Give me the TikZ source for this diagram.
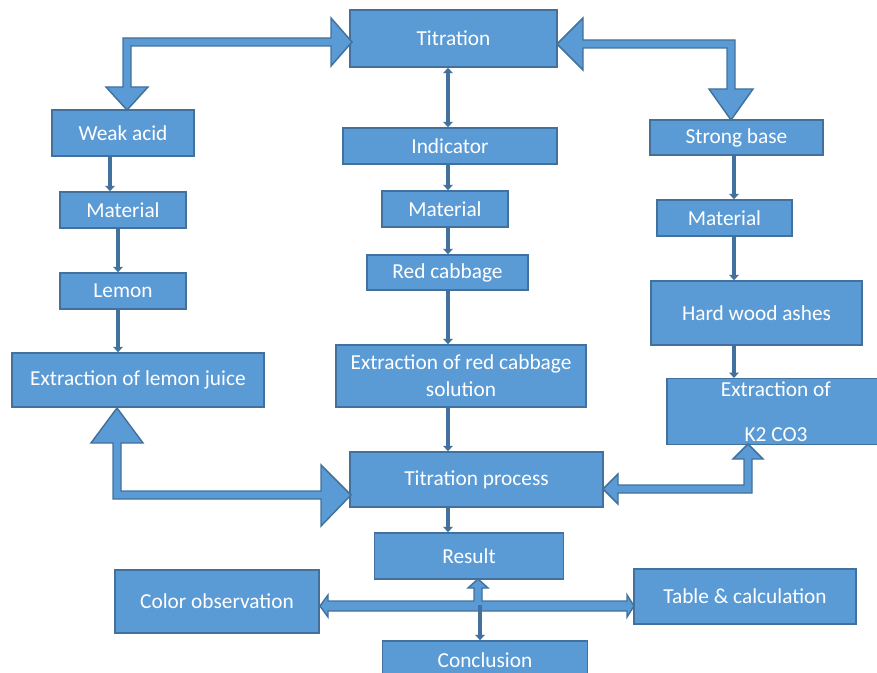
\documentclass[tikz,border=0pt]{standalone}
\usepackage{fontspec}
\setmainfont{Carlito}
\usetikzlibrary{arrows.meta}
\definecolor{boxblue}{HTML}{5B9BD5}
\definecolor{edgeblue}{HTML}{41719C}
\tikzset{
  box/.style={rectangle,draw=edgeblue,fill=boxblue,line width=1.1pt,text=white,
    inner sep=2pt,align=center,font=\fontsize{16}{20}\selectfont},
  sz/.style 2 args={minimum width=#1*0.75pt,minimum height=#2*0.75pt},
  link/.style={draw=edgeblue,line width=2.8pt,-{Triangle[width=7pt,length=4pt]}},
  blockarrow/.style={draw=edgeblue,fill=boxblue,line width=1.1pt,line join=miter}
}
\begin{document}
\begin{tikzpicture}[x=0.75pt,y=-0.75pt]
\clip (0,0) rectangle (877,673);
% boxes
\node[box,sz={207}{57}] (tit) at (453.5,38.5) {Titration};
\node[box,sz={142}{46}] (weak) at (123,133) {Weak acid};
\node[box,sz={214}{36}] (ind) at (450,146) {Indicator};
\node[box,sz={173}{35}] (strong) at (736.5,137.5) {Strong base};
\node[box,sz={126}{36}] (mat1) at (123,210) {Material};
\node[box,sz={126}{36}] (mat2) at (445,209) {Material};
\node[box,sz={135}{36}] (mat3) at (724.5,218) {Material};
\node[box,sz={126}{36}] (lemon) at (123,291) {Lemon};
\node[box,sz={161}{35}] (cab) at (447.5,272.5) {Red cabbage};
\node[box,sz={211}{64}] (ash) at (756.5,313) {Hard wood ashes};
\node[box,sz={252}{54}] (exl) at (138,380) {Extraction of lemon juice};
\node[box,sz={250}{62}] (exc) at (461,376) {Extraction of red cabbage\\solution};
\node[box,sz={218}{63}] (exk) at (776,411.5) {Extraction of\\[14pt]K2 CO3};
\node[box,sz={253}{55}] (proc) at (476.5,479.5) {Titration process};
\node[box,sz={189}{46}] (res) at (469,556) {Result};
\node[box,sz={204}{63}] (col) at (217,601.5) {Color observation};
\node[box,sz={222}{55}] (tab) at (745,596.5) {Table \& calculation};
\node[box,sz={205}{38}] (conc) at (485,660) {Conclusion};
% columns of the small arrows
\coordinate (cA) at (110,0);
\coordinate (cB) at (118,0);
\coordinate (cM) at (448,0);
\coordinate (cR) at (734,0);
\coordinate (bar) at (480,605);
% small arrows
\draw[link,{Triangle[width=7pt,length=4pt]}-{Triangle[width=7pt,length=4pt]}] (tit.south -| cM) -- (ind.north -| cM);
\draw[link] (ind.south -| cM) -- (mat2.north -| cM);
\draw[link] (mat2.south -| cM) -- (cab.north -| cM);
\draw[link] (cab.south -| cM) -- (exc.north -| cM);
\draw[link] (exc.south -| cM) -- (proc.north -| cM);
\draw[link] (proc.south -| cM) -- (res.north -| cM);
\draw[link] (weak.south -| cA) -- (mat1.north -| cA);
\draw[link] (mat1.south -| cB) -- (lemon.north -| cB);
\draw[link] (lemon.south -| cB) -- (exl.north -| cB);
\draw[link] (strong.south -| cR) -- (mat3.north -| cR);
\draw[link] (mat3.south -| cR) -- (ash.north -| cR);
\draw[link] (ash.south -| cR) -- (exk.north -| cR);
% block arrows
\draw[blockarrow] (352,42) -- (331,18) -- (331,38) -- (123,38) -- (123,87) -- (106,87)
  -- (127,110) -- (148,87) -- (131,87) -- (131,46) -- (331,46) -- (331,66) -- cycle;
\draw[blockarrow] (557,44) -- (583,18) -- (583,40) -- (735,40) -- (735,89) -- (753,89)
  -- (731,120) -- (709,89) -- (727,89) -- (727,48) -- (583,48) -- (583,70) -- cycle;
\draw[blockarrow] (117,408) -- (143,443) -- (121,443) -- (121,491) -- (321,491) -- (321,465)
  -- (351,495) -- (321,526) -- (321,499) -- (113,499) -- (113,443) -- (91,443) -- cycle;
\draw[blockarrow] (603,489) -- (618,474) -- (618,485) -- (744,485) -- (744,459) -- (733,459)
  -- (748,444) -- (763,459) -- (752,459) -- (752,493) -- (618,493) -- (618,504) -- cycle;
\draw[blockarrow] (320,606) -- (328,595) -- (328,601) -- (474,601) -- (474,588) -- (468,588)
  -- (478,579) -- (488,588) -- (482,588) -- (482,601) -- (627,601) -- (627,595) -- (634,606)
  -- (627,617) -- (627,611) -- (328,611) -- (328,617) -- cycle;
\draw[link] (bar) -- (conc.north -| bar);
\end{tikzpicture}
\end{document}
